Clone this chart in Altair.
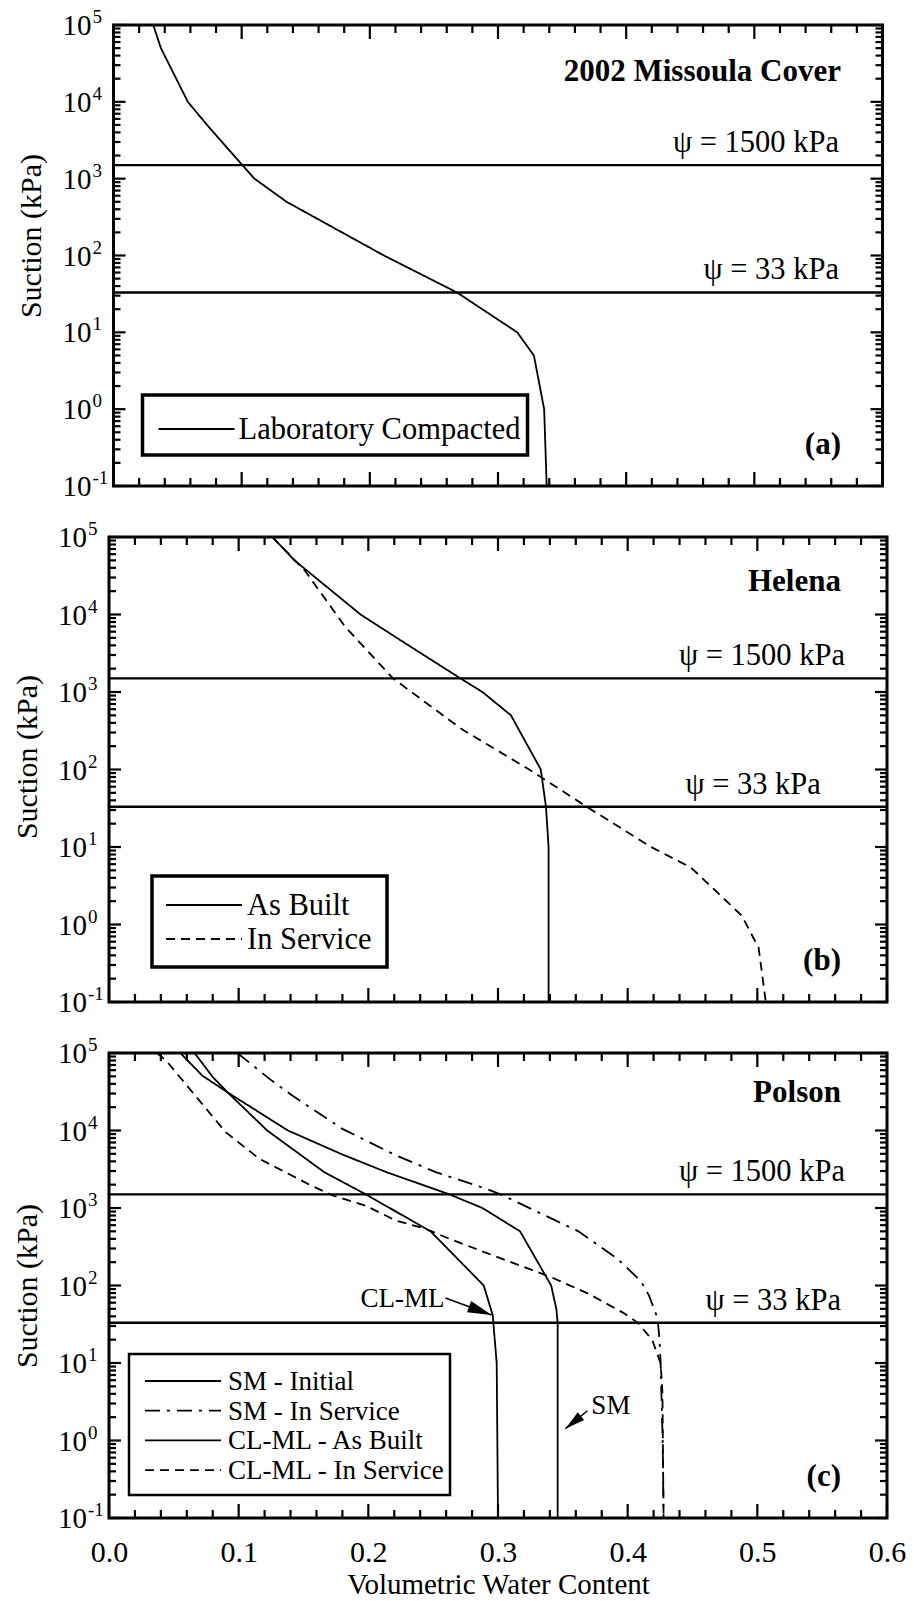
import math
import altair as alt
import pandas as pd

FONT = "Liberation Serif"
INK = "black"

# ---------------- axis values ----------------
decades = [0.1, 1, 10, 100, 1000, 10000, 100000]
decade_exps = ["-1", "0", "1", "2", "3", "4", "5"]
x_major = [0.0, 0.1, 0.2, 0.3, 0.4, 0.5, 0.6]
x_minor = [0.02, 0.04, 0.06, 0.08, 0.12, 0.14, 0.16, 0.18, 0.22, 0.24, 0.26, 0.28,
           0.32, 0.34, 0.36, 0.38, 0.42, 0.44, 0.46, 0.48, 0.52, 0.54, 0.56, 0.58]
y_minor = [m * d for d in [0.1, 1, 10, 100, 1000, 10000] for m in range(2, 10)]

ref_suction = [1500, 33]
ref_text = ["\u03c8 = 1500 kPa", "\u03c8 = 33 kPa"]

# ---------------- (a) 2002 Missoula Cover ----------------
a_theta = [0.031, 0.037, 0.058, 0.073, 0.094, 0.110, 0.135, 0.211, 0.268, 0.315, 0.328, 0.336, 0.338]
a_psi = [1e5, 5e4, 1e4, 5e3, 2e3, 1e3, 500, 100, 33, 10, 5, 1, 0.1]

# ---------------- (b) Helena ----------------
b_built_theta = [0.126, 0.143, 0.194, 0.228, 0.271, 0.288, 0.310, 0.333, 0.337, 0.339, 0.339]
b_built_psi = [1e5, 5e4, 1e4, 4.3e3, 1.5e3, 1e3, 500, 100, 33, 10, 0.1]
b_serv_theta = [0.126, 0.151, 0.182, 0.219, 0.272, 0.324, 0.3685, 0.418, 0.449, 0.488, 0.501, 0.5065]
b_serv_psi = [1e5, 3.7e4, 7e3, 1.5e3, 332, 100, 33, 10, 5.4, 1.3, 0.5, 0.1]

# ---------------- (c) Polson ----------------
c_sm_init_theta = [0.055, 0.072, 0.0915, 0.138, 0.180, 0.214, 0.2625, 0.288, 0.317, 0.341, 0.345, 0.346, 0.346, 0.346]
c_sm_init_psi = [1e5, 5.1e4, 3.1e4, 1e4, 4.9e3, 2.9e3, 1.5e3, 1e3, 500, 100, 50, 33, 10, 0.1]
c_sm_serv_theta = [0.099, 0.124, 0.1416, 0.180, 0.221, 0.252, 0.291, 0.302, 0.362, 0.392, 0.410, 0.4165,
                   0.423, 0.4246, 0.4254, 0.427, 0.4277]
c_sm_serv_psi = [1e5, 4.6e4, 2.8e4, 1.05e4, 4.8e3, 2.9e3, 1.77e3, 1.5e3, 500, 222, 115, 74, 38, 20, 10, 1, 0.1]
c_cl_built_theta = [0.066, 0.080, 0.0915, 0.122, 0.166, 0.198, 0.248, 0.289, 0.296, 0.297, 0.299, 0.300]
c_cl_built_psi = [1e5, 4.9e4, 3.1e4, 1e4, 2.9e3, 1.5e3, 500, 100, 41, 25, 10, 0.1]
c_cl_serv_theta = [0.037, 0.044, 0.090, 0.116, 0.156, 0.1725, 0.198, 0.221, 0.244, 0.2625, 0.296, 0.341,
                   0.370, 0.396, 0.408, 0.419, 0.4254, 0.4268, 0.4277]
c_cl_serv_psi = [1e5, 8e4, 9.5e3, 4.3e3, 1.95e3, 1.45e3, 1.07e3, 690, 540, 400, 245, 128, 78, 45, 33, 19.7,
                 10, 4.2, 0.1]

# annotations (data space)
c_note_text = ["CL-ML", "SM"]
c_note_x = [0.2587, 0.372]
c_note_psi = [67, 2.8]
c_note_align = ["right", "left"]
c_arrow_start_x = [0.2595, 0.369]
c_arrow_start_psi = [69, 2.42]
c_arrow_tip_x = [0.2951, 0.352]
c_arrow_tip_psi = [41.7, 1.42]
c_arrow_len = [24, 20]

SOLID = [1, 0]
DASH = [9, 6]
DASHDOT = [15, 7, 3, 7]

XDOM = [0.0, 0.6]
YDOM = [0.1, 1e5]
TXT = 30.5


def panel(W, H, series, title, title_pos, tag, tag_pos, ref_pos, legend, show_x,
          ytitle_dy=0, notes=None, arrows=None, left_marker=False, top_marker=False):
    xs = alt.Scale(domain=XDOM, nice=False, zero=False)
    ys = alt.Scale(type="log", domain=YDOM, nice=False)
    if show_x:
        xaxis = alt.Axis(values=x_major, format=".1f", labelFont=FONT, labelFontSize=30,
                         labelColor=INK, labelPadding=19, labelFlush=False, labelOverlap=False,
                         labelBound=False, ticks=False, domain=False, grid=False,
                         title="Volumetric Water Content", titleFont=FONT, titleFontSize=29,
                         titleFontWeight="normal", titleColor=INK, titleY=75,
                         titleBaseline="alphabetic", titleAlign="center", titleX=W / 2)
    else:
        xaxis = None
    yaxis = alt.Axis(labels=False, ticks=False, domain=False, grid=False,
                     title="Suction (kPa)", titleFont=FONT, titleFontSize=30,
                     titleFontWeight="normal", titleColor=INK, titleAngle=270,
                     titleX=-82, titleY=H / 2 + ytitle_dy, titleAlign="center",
                     titleBaseline="middle")

    def X(f):
        return alt.X(f, type="quantitative", scale=xs, axis=xaxis)

    def Y(f):
        return alt.Y(f, type="quantitative", scale=ys, axis=yaxis)

    layers = []
    # ticks (inward, all four sides)
    xt_maj = pd.DataFrame({"v": x_major})
    xt_min = pd.DataFrame({"v": x_minor})
    yt_maj = pd.DataFrame({"v": decades})
    yt_min = pd.DataFrame({"v": y_minor})
    for df, L in [(xt_maj, 14), (xt_min, 8)]:
        layers.append(alt.Chart(df).mark_rule(color=INK, strokeWidth=2.2).encode(
            x=X("v"), y=alt.value(0), y2=alt.value(L)))
        layers.append(alt.Chart(df).mark_rule(color=INK, strokeWidth=2.2).encode(
            x=X("v"), y=alt.value(H), y2=alt.value(H - L)))
    for df, L in [(yt_maj, 12), (yt_min, 7)]:
        layers.append(alt.Chart(df).mark_rule(color=INK, strokeWidth=2.2).encode(
            y=Y("v"), x=alt.value(0), x2=alt.value(L)))
        layers.append(alt.Chart(df).mark_rule(color=INK, strokeWidth=2.2).encode(
            y=Y("v"), x=alt.value(W - L), x2=alt.value(W)))

    # y tick labels 10^n
    ylab = pd.DataFrame({"v": decades, "e": decade_exps, "b": ["10"] * len(decades)})
    layers.append(alt.Chart(ylab).mark_text(font=FONT, fontSize=29, align="right",
                                            baseline="alphabetic", dy=10, color=INK).encode(
        y=Y("v"), x=alt.value(-22), text="b:N"))
    layers.append(alt.Chart(ylab).mark_text(font=FONT, fontSize=19, align="left",
                                            baseline="alphabetic", dy=-2, color=INK).encode(
        y=Y("v"), x=alt.value(-21), text="e:N"))

    # reference suction lines
    refdf = pd.DataFrame({"psi": ref_suction, "label": ref_text, "lx": ref_pos})
    layers.append(alt.Chart(refdf).mark_rule(color=INK, strokeWidth=2.4).encode(y=Y("psi")))
    layers.append(alt.Chart(refdf).mark_text(font=FONT, fontSize=TXT, align="right",
                                             baseline="middle", dy=-22, color=INK).encode(
        x=X("lx"), y=Y("psi"), text="label:N"))

    # curves
    for s in series:
        df = pd.DataFrame({"theta": s["theta"], "psi": s["psi"], "i": list(range(len(s["psi"])))})
        layers.append(alt.Chart(df).mark_line(color=INK, strokeWidth=1.8, strokeDash=s["dash"],
                                              clip=True).encode(
            x=X("theta"), y=Y("psi"), order=alt.Order("i:Q")))

    # title and tag
    tdf = pd.DataFrame({"t": [title, tag], "x": [title_pos[0], tag_pos[0]],
                        "y": [title_pos[1], tag_pos[1]]})
    layers.append(alt.Chart(tdf).mark_text(font=FONT, fontSize=31, fontWeight="bold",
                                           align="right", baseline="middle", color=INK).encode(
        x=X("x"), y=Y("y"), text="t:N"))

    # annotations with arrows
    if notes is not None:
        for t, nx, ny, al in zip(*notes):
            ndf = pd.DataFrame({"t": [t], "x": [nx], "y": [ny]})
            layers.append(alt.Chart(ndf).mark_text(font=FONT, fontSize=27, align=al,
                                                   baseline="middle", color=INK).encode(
                x=X("x"), y=Y("y"), text="t:N"))
    if arrows is not None:
        for x1, y1, x2, y2, ln in zip(*arrows):
            adf = pd.DataFrame({"x1": [x1], "y1": [y1], "x2": [x2], "y2": [y2]})
            layers.append(alt.Chart(adf).mark_rule(color=INK, strokeWidth=1.5).encode(
                x=X("x1"), y=Y("y1"), x2="x2", y2="y2"))
            dxp = (x2 - x1) / (XDOM[1] - XDOM[0]) * W
            dyp = -(math.log10(y2) - math.log10(y1)) / 6.0 * H
            ang = math.degrees(math.atan2(dxp, -dyp)) % 360
            layers.append(alt.Chart(adf).mark_point(
                shape="M0,0L0.5,2L-0.5,2Z", filled=True, size=ln * ln, angle=ang,
                color=INK, opacity=1, strokeWidth=0).encode(x=X("x2"), y=Y("y2")))

    # legend (drawn in pixel space of the panel)
    bx0, by0, bx1, by1 = legend["box"]
    layers.append(alt.Chart(pd.DataFrame({"k": [0]})).mark_rect(
        fill="white", stroke=INK, strokeWidth=legend["sw"]).encode(
        x=alt.value(bx0), x2=alt.value(bx1), y=alt.value(by0), y2=alt.value(by1)))
    lx0, lx1 = legend["line_x"]
    for k, (lab, dash) in enumerate(legend["entries"]):
        yy = legend["y0"] + k * legend["dy"]
        layers.append(alt.Chart(pd.DataFrame({"k": [0]})).mark_rule(
            color=INK, strokeWidth=1.8, strokeDash=dash).encode(
            x=alt.value(lx0), x2=alt.value(lx1), y=alt.value(yy)))
        layers.append(alt.Chart(pd.DataFrame({"t": [lab]})).mark_text(
            font=FONT, fontSize=legend["fs"], align="left", baseline="middle", color=INK).encode(
            x=alt.value(legend["text_x"]), y=alt.value(yy + 1), text="t:N"))

    # white layout markers (keep the page origin where the reference has it)
    if left_marker:
        layers.append(alt.Chart(pd.DataFrame({"k": [0]})).mark_rule(color="white", strokeWidth=1).encode(
            x=alt.value(-106.5), x2=alt.value(-105), y=alt.value(H / 2)))
    if top_marker:
        layers.append(alt.Chart(pd.DataFrame({"k": [0]})).mark_rule(color="white", strokeWidth=1).encode(
            x=alt.value(10), x2=alt.value(12), y=alt.value(-22.5)))

    return alt.layer(*layers).properties(width=W, height=H)


pa = panel(
    769, 461,
    [{"theta": a_theta, "psi": a_psi, "dash": SOLID}],
    "2002 Missoula Cover", (0.5676, 2.44e4), "(a)", (0.5676, 0.341),
    [0.566, 0.566],
    {"box": (29, 370, 414, 430), "sw": 3.5, "line_x": (45, 121), "text_x": 125,
     "y0": 404, "dy": 0, "fs": TXT, "entries": [("Laboratory Compacted", SOLID)]},
    False, ytitle_dy=-20, top_marker=True)

pb = panel(
    778, 465,
    [{"theta": b_built_theta, "psi": b_built_psi, "dash": SOLID},
     {"theta": b_serv_theta, "psi": b_serv_psi, "dash": DASH}],
    "Helena", (0.5645, 2.63e4), "(b)", (0.5645, 0.338),
    [0.5676, 0.549],
    {"box": (43, 339, 278, 430), "sw": 3.5, "line_x": (57, 133), "text_x": 138,
     "y0": 368, "dy": 34, "fs": TXT, "entries": [("As Built", SOLID), ("In Service", DASH)]},
    False, ytitle_dy=-13)

pc = panel(
    778, 465,
    [{"theta": c_sm_init_theta, "psi": c_sm_init_psi, "dash": SOLID},
     {"theta": c_sm_serv_theta, "psi": c_sm_serv_psi, "dash": DASHDOT},
     {"theta": c_cl_built_theta, "psi": c_cl_built_psi, "dash": SOLID},
     {"theta": c_cl_serv_theta, "psi": c_cl_serv_psi, "dash": DASH}],
    "Polson", (0.5645, 3.05e4), "(c)", (0.5645, 0.338),
    [0.5676, 0.5645],
    {"box": (20, 301, 341, 442), "sw": 2.5, "line_x": (36, 112), "text_x": 119,
     "y0": 328, "dy": 29.7, "fs": 27,
     "entries": [("SM - Initial", SOLID), ("SM - In Service", DASHDOT),
                 ("CL-ML - As Built", SOLID), ("CL-ML - In Service", DASH)]},
    True, ytitle_dy=0,
    notes=(c_note_text, c_note_x, c_note_psi, c_note_align),
    arrows=(c_arrow_start_x, c_arrow_start_psi, c_arrow_tip_x, c_arrow_tip_psi, c_arrow_len),
    left_marker=True)

chart = alt.vconcat(pa, pb, pc, spacing=51, center=True, bounds="flush").properties(
    padding=0, background="white"
).configure_view(stroke=INK, strokeWidth=3)

chart.save("out.html", embed_options={"renderer": "svg", "actions": False})
